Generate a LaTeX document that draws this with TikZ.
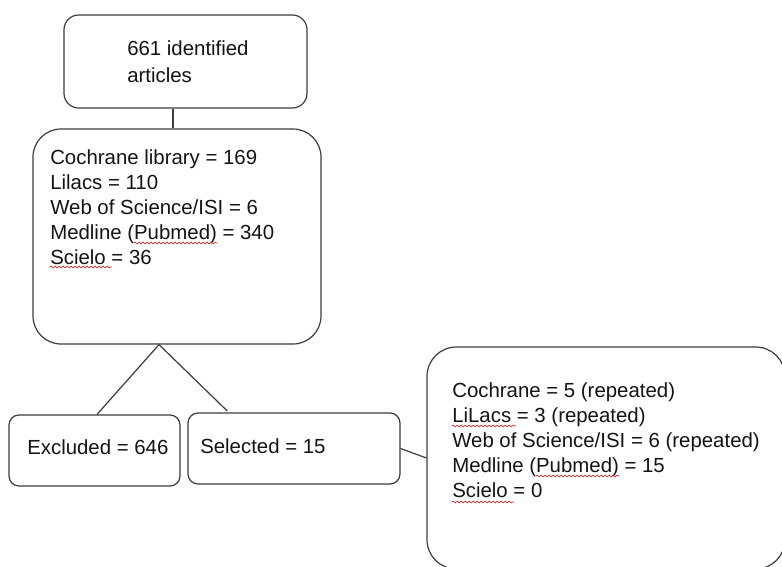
\documentclass[tikz,border=0pt]{standalone}
\usepackage{fontspec}
\setmainfont{Liberation Sans}
\usetikzlibrary{decorations.pathmorphing,calc}
\definecolor{linec}{HTML}{3C3C3C}
\definecolor{textc}{HTML}{141414}
\definecolor{squig}{HTML}{E02020}
\begin{document}
\begin{tikzpicture}[x=0.75pt,y=-0.75pt,
  rbox/.style={draw=linec, line width=0.9pt, rounded corners=#1, inner sep=0pt, fill=white},
  conn/.style={draw=linec, line width=0.9pt},
  txt/.style={anchor=base west, inner sep=0pt, text=textc, font=\fontsize{15.3}{18.75}\selectfont},
  wavy/.style={draw=squig, line width=0.5pt, decorate, decoration={snake, amplitude=0.7pt, segment length=3pt}}]
\useasboundingbox (0,0) rectangle (782,567);
\fill[white] (0,0) rectangle (782,567);
% connectors first (behind boxes)
\node[rbox=11pt, minimum width=243*0.75pt, minimum height=93*0.75pt] (b1) at (185.5,61.5) {};
\node[rbox=21pt, minimum width=288*0.75pt, minimum height=215*0.75pt] (b2) at (177,236.5) {};
\node[rbox=7.5pt, minimum width=171*0.75pt, minimum height=71*0.75pt] (exc) at (94.5,450.5) {};
\node[rbox=7.5pt, minimum width=212*0.75pt, minimum height=71*0.75pt] (sel) at (294,448.5) {};
\node[rbox=22pt, minimum width=358*0.75pt, minimum height=222*0.75pt] (rb) at (606,458) {};
% connectors
\draw[conn] ([xshift=-9.4pt]b1.south) -- ([xshift=-9.4pt]b1.south |- b2.north);
\coordinate (apex) at ([xshift=-13.5pt]b2.south);
\draw[conn] ([xshift=1.9pt]exc.north) -- (apex) -- ([xshift=-50pt,yshift=1pt]sel.north);
\draw[conn] (sel.east) -- (rb.west);
% texts
\node[txt] (t1) at (127,56) {\begin{tabular}[t]{@{}l@{}}661 identified\\[1.5pt] articles\end{tabular}};
\node[txt] (t2) at (50,164) {\begin{tabular}[t]{@{}l@{}}Cochrane library = 169\\ Lilacs = 110\\ Web of Science/ISI = 6\\ Medline (Pubmed) = 340\\ Scielo = 36\end{tabular}};
\node[txt] (t3) at (27,454) {Excluded = 646};
\node[txt] (t4) at (200,453) {Selected = 15};
\node[txt] (t5) at (452,397) {\begin{tabular}[t]{@{}l@{}}Cochrane = 5 (repeated)\\ LiLacs = 3 (repeated)\\ Web of Science/ISI = 6 (repeated)\\ Medline (Pubmed) = 15\\ Scielo = 0\end{tabular}};
% spell-check squiggles
\draw[wavy] (134,243) -- (217,243);
\draw[wavy] (50,267) -- (112,267);
\draw[wavy] (452,426) -- (516,426);
\draw[wavy] (536,476) -- (619,476);
\draw[wavy] (452,502) -- (514,502);
\end{tikzpicture}
\end{document}
